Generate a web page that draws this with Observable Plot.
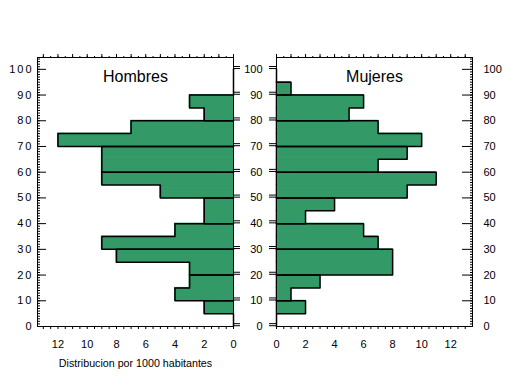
<!DOCTYPE html>
<html><head><meta charset="utf-8">
<script src="https://cdn.jsdelivr.net/npm/d3@7"></script>
<script src="https://cdn.jsdelivr.net/npm/@observablehq/plot@0.6"></script>
<style>
body{margin:0;background:#fff;}
#wrap{position:relative;width:509px;height:376px;font-family:"Liberation Sans",Arial,sans-serif;}
#wrap svg{position:absolute;top:0;}
</style></head><body><div id="wrap"></div>
<script>
// age bin starts (5-year bins)
const edadInicio = [0,5,10,15,20,25,30,35,40,45,50,55,60,65,70,75,80,85,90,95];
// distribution per 1000 inhabitants
const hombres = [0,2,4,3,3,8,9,4,2,2,5,9,9,9,12,7,2,3,0,0];
const mujeres = [0,2,1,3,8,8,7,6,2,4,9,11,7,9,10,7,5,6,1,0];
const titulos = ["Hombres","Mujeres"];
const ejeTitulo = "Distribucion por 1000 habitantes";
const yTicks = [0,10,20,30,40,50,60,70,80,90,100];
const xTicks = [0,2,4,6,8,10,12];

const green = "#339966";
const yMinor = d3.range(0,105,1);
const eqTicks = yTicks.flatMap(v => [v+0.3, v+1.1]);
const xMinor = d3.range(0,13.5,0.5);
const xMajor = d3.range(0,13.5,1);

function rows(vals){ return edadInicio.map((a,i)=>({a, b:a+5, v:vals[i]})); }
function outline(vals){
  const pts = [];
  for (let i=0;i<edadInicio.length;i+=2){
    const g = edadInicio[i], v1 = vals[i], v2 = vals[i+1];
    pts.push({g,x:0,y:g},{g,x:v1,y:g},{g,x:v1,y:g+5},{g,x:v2,y:g+5},{g,x:v2,y:g+10},{g,x:0,y:g+10});
  }
  return pts;
}

const common = {
  height: 376, marginTop: 57, marginBottom: 50,
  y: {domain:[0,104.6]},
  style: {fontFamily:'"Liberation Sans",Arial,sans-serif', fontSize:"11px", background:"#fff", overflow:"visible"}
};
function barsMarks(vals, title){
  return [
    Plot.rectX(rows(vals).filter(d => d.v > 0), {x:"v", y1:"a", y2:"b", fill:green, stroke:green, strokeWidth:1}),
    Plot.line(outline(vals), {x:"x", y:"y", z:"g", stroke:"black", strokeWidth:1.5}),
    Plot.frame({stroke:"black"}),
    Plot.axisX(xMinor, {anchor:"top", tickSize:2, fill:"none", label:null}),
    Plot.axisX(xMajor, {anchor:"top", tickSize:4, fill:"none", label:null}),
    Plot.axisX(xMinor, {anchor:"bottom", tickSize:3, fill:"none", label:null}),
    Plot.axisX(xTicks, {anchor:"bottom", tickSize:0, tickPadding:14, fontSize:11, label:null}),
    Plot.text([title], {frameAnchor:"top", lineAnchor:"middle", dy:19, fontSize:16})
  ];
}

const left = Plot.plot({
  ...common, width: 250, marginLeft: 37, marginRight: 17,
  x: {domain:[0,13.4], reverse:true},
  marks: [
    ...barsMarks(hombres, titulos[0]),
    Plot.axisY(yTicks, {anchor:"left", tickSize:0, tickPadding:4, label:null, fontSize:11}),
    Plot.axisY(yTicks, {anchor:"left", tickSize:-9, fill:"none", label:null}),
    Plot.axisY(yMinor, {anchor:"left", tickSize:-3, fill:"none", label:null}),
    Plot.axisY(eqTicks, {anchor:"right", tickSize:6, fill:"none", label:null}),
    Plot.text([ejeTitulo], {frameAnchor:"bottom", lineAnchor:"middle", dy:37, fontSize:10.7})
  ]
});
left.style.left = "0px";
d3.select(left).selectAll('g[aria-label="y-axis tick label"] text').style("letter-spacing","2px");

const right = Plot.plot({
  ...common, width: 259, marginLeft: 26, marginRight: 37,
  x: {domain:[0,13.5]},
  marks: [
    ...barsMarks(mujeres, titulos[1]),
    Plot.axisY(yTicks, {anchor:"left", tickSize:0, tickPadding:14, label:null, fontSize:11}),
    Plot.axisY(eqTicks, {anchor:"left", tickSize:7, fill:"none", label:null}),
    Plot.axisY(yTicks, {anchor:"right", tickSize:0, tickPadding:11, label:null, fontSize:11}),
    Plot.axisY(yTicks, {anchor:"right", tickSize:-11, fill:"none", label:null}),
    Plot.axisY(yMinor, {anchor:"right", tickSize:-3, fill:"none", label:null})
  ]
});
right.style.left = "250px";

const wrap = document.getElementById("wrap");
wrap.append(left, right);
</script></body></html>
